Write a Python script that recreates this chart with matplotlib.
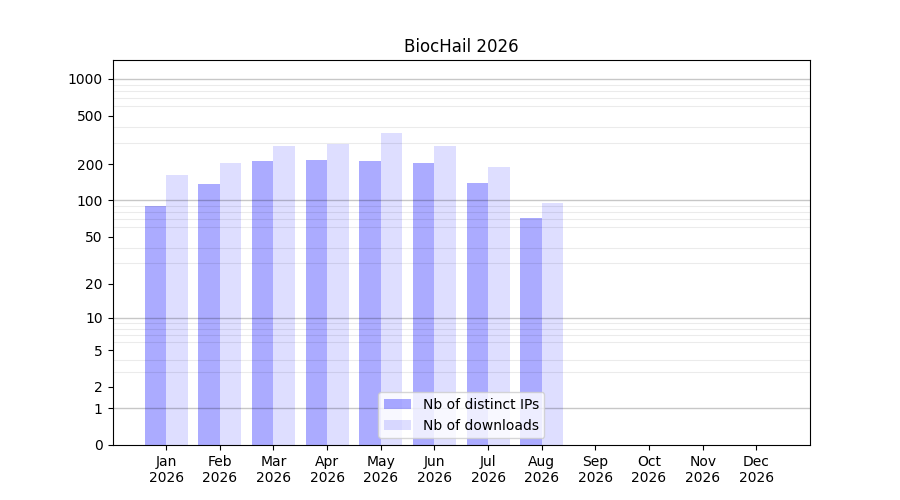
import matplotlib
matplotlib.use("Agg")
import matplotlib.pyplot as plt
import numpy as np

months = ["Jan", "Feb", "Mar", "Apr", "May", "Jun", "Jul", "Aug", "Sep", "Oct", "Nov", "Dec"]
year = 2026
nb_ips = [90, 137, 212, 216, 212, 205, 140, 72]
nb_downloads = [163, 205, 281, 292, 360, 281, 189, 95]
ytick_vals = [0, 1, 2, 5, 10, 20, 50, 100, 200, 500, 1000]
decades = [1, 10, 100, 1000]

fig, ax = plt.subplots(figsize=(9, 5), dpi=100)
# log(x+1) scale so that 0 can be shown
ax.set_yscale("function", functions=(lambda v: np.log10(np.maximum(v, -0.999) + 1),
                                     lambda t: 10**t - 1))

x = np.arange(len(nb_ips))
w = 0.4
ax.bar(x - w/2, nb_ips, width=w, color="blue", alpha=0.33, label="Nb of distinct IPs")
ax.bar(x + w/2, nb_downloads, width=w, color="blue", alpha=0.13, label="Nb of downloads")

ax.set_xlim(-1, 12)
ax.set_ylim(0, 1430)
ax.set_xticks(np.arange(12))
ax.set_xticklabels([m + "\n" + str(year) for m in months])

ax.set_yticks(ytick_vals)
ax.set_yticklabels([str(v) for v in ytick_vals])
minors = [m * d for d in [1, 10, 100, 1000] for m in range(2, 10) if m * d < 1430]
ax.set_yticks(minors, minor=True)
ax.tick_params(axis="y", which="minor", length=0)
ax.grid(True, which="minor", axis="y", color="black", alpha=0.08, linewidth=0.8)
for d in decades:
    ax.axhline(d, color="black", alpha=0.22, linewidth=1.0, zorder=1.5)

ax.set_title("BiocHail 2026")
ax.legend(loc="lower center")
plt.savefig("out.png")
